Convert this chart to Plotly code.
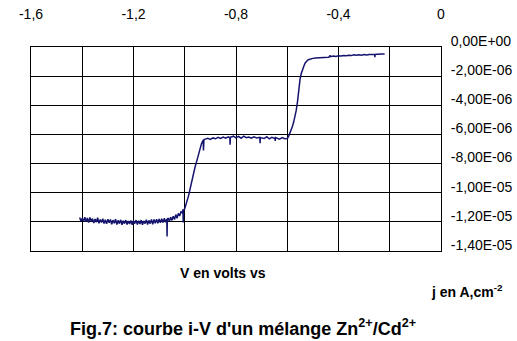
import plotly.graph_objects as go

# Potential (V) and current density (µA/cm², converted to A/cm² below)
V = [
    -1.410, -1.405, -1.400, -1.395, -1.390, -1.385, -1.380, -1.375, -1.370, -1.365,
    -1.360, -1.355, -1.350, -1.345, -1.340, -1.335, -1.330, -1.325, -1.320, -1.315,
    -1.310, -1.305, -1.300, -1.295, -1.290, -1.285, -1.280, -1.275, -1.270, -1.265,
    -1.260, -1.255, -1.250, -1.245, -1.240, -1.235, -1.230, -1.225, -1.220, -1.215,
    -1.210, -1.205, -1.200, -1.195, -1.190, -1.185, -1.180, -1.175, -1.170, -1.165,
    -1.160, -1.155, -1.150, -1.145, -1.140, -1.135, -1.130, -1.125, -1.120, -1.115,
    -1.110, -1.105, -1.100, -1.095, -1.090, -1.085, -1.080, -1.075, -1.070, -1.069,
    -1.068, -1.065, -1.060, -1.055, -1.050, -1.045, -1.040, -1.035, -1.030, -1.025,
    -1.020, -1.015, -1.010, -1.007, -1.006, -1.005, -1.000, -0.995, -0.990, -0.985,
    -0.980, -0.975, -0.970, -0.965, -0.960, -0.955, -0.950, -0.945, -0.940, -0.935,
    -0.930, -0.928, -0.927, -0.925, -0.920, -0.910, -0.900, -0.890, -0.880, -0.870,
    -0.860, -0.850, -0.840, -0.830, -0.824, -0.823, -0.822, -0.810, -0.800, -0.790,
    -0.780, -0.770, -0.760, -0.750, -0.740, -0.730, -0.720, -0.707, -0.706, -0.705,
    -0.690, -0.680, -0.670, -0.660, -0.648, -0.647, -0.646, -0.630, -0.620, -0.610,
    -0.600, -0.595, -0.590, -0.585, -0.580, -0.575, -0.570, -0.565, -0.560, -0.555,
    -0.550, -0.545, -0.540, -0.535, -0.530, -0.525, -0.520, -0.515, -0.510, -0.500,
    -0.490, -0.480, -0.470, -0.460, -0.450, -0.440, -0.434, -0.433, -0.432, -0.420,
    -0.410, -0.400, -0.390, -0.380, -0.370, -0.360, -0.350, -0.340, -0.330, -0.320,
    -0.310, -0.300, -0.290, -0.280, -0.270, -0.259, -0.258, -0.257, -0.250, -0.240,
    -0.230, -0.220,
]
J_uA = [
    -11.70, -11.95, -11.75, -11.98, -11.68, -12.00, -11.74, -12.05, -11.70, -11.96,
    -11.78, -12.08, -11.80, -12.02, -11.72, -12.10, -11.84, -12.04, -11.78, -12.12,
    -11.86, -12.14, -11.82, -12.06, -11.84, -12.16, -11.88, -12.10, -11.82, -12.18,
    -11.90, -12.12, -11.86, -12.20, -11.92, -12.12, -11.88, -12.18, -11.94, -12.14,
    -11.90, -12.20, -11.94, -12.12, -11.88, -12.18, -11.92, -12.14, -11.88, -12.20,
    -11.94, -12.12, -11.86, -12.18, -11.90, -12.12, -11.84, -12.16, -11.84, -12.10,
    -11.82, -12.10, -11.80, -12.06, -11.78, -12.04, -11.76, -12.02, -11.80, -13.00,
    -11.84, -11.74, -11.96, -11.68, -11.90, -11.62, -11.84, -11.50, -11.76, -11.42,
    -11.60, -11.32, -11.38, -11.15, -12.05, -11.20, -11.10, -10.85, -10.55, -10.20,
    -9.80, -9.35, -8.95, -8.60, -8.25, -7.95, -7.60, -7.25, -6.95, -6.65,
    -6.45, -6.38, -7.10, -6.35, -6.32, -6.26, -6.34, -6.24, -6.30, -6.20,
    -6.28, -6.18, -6.26, -6.16, -6.22, -6.70, -6.20, -6.12, -6.24, -6.14,
    -6.26, -6.12, -6.22, -6.18, -6.26, -6.16, -6.24, -6.20, -6.60, -6.22,
    -6.28, -6.16, -6.30, -6.20, -6.28, -6.45, -6.22, -6.32, -6.22, -6.30,
    -6.28, -6.15, -5.95, -5.70, -5.45, -5.15, -4.80, -4.35, -3.75, -2.90,
    -2.20, -1.80, -1.50, -1.30, -1.10, -0.98, -0.90, -0.86, -0.82, -0.78,
    -0.76, -0.75, -0.70, -0.74, -0.68, -0.70, -0.66, -0.56, -0.66, -0.62,
    -0.65, -0.60, -0.62, -0.58, -0.60, -0.56, -0.59, -0.54, -0.57, -0.53,
    -0.56, -0.52, -0.55, -0.51, -0.53, -0.51, -0.70, -0.51, -0.49, -0.51,
    -0.48, -0.48,
]
J = [v * 1e-6 for v in J_uA]

x_tickvals = [-1.6, -1.2, -0.8, -0.4, 0]
x_ticktext = ["-1,6", "-1,2", "-0,8", "-0,4", "0"]
y_tickvals = [0, -2e-6, -4e-6, -6e-6, -8e-6, -1e-5, -1.2e-5, -1.4e-5]
y_ticktext = ["0,00E+00", "-2,00E-06", "-4,00E-06", "-6,00E-06",
              "-8,00E-06", "-1,00E-05", "-1,20E-05", "-1,40E-05"]

FONT = "Liberation Sans, Arial, sans-serif"

fig = go.Figure()
fig.add_trace(go.Scatter(x=V, y=J, mode="lines",
                         line=dict(color="#14146e", width=1.5),
                         showlegend=False, hoverinfo="skip"))

fig.update_layout(
    width=517, height=341,
    margin=dict(l=31, r=76, t=47, b=90, autoexpand=False),
    paper_bgcolor="white", plot_bgcolor="white",
    font=dict(family=FONT, size=14, color="black"),
    xaxis=dict(
        range=[-1.6, 0], side="top", automargin=False,
        tickvals=x_tickvals, ticktext=x_ticktext,
        showgrid=True, gridcolor="black", gridwidth=1,
        minor=dict(dtick=0.2, tick0=0, showgrid=True, gridcolor="black", gridwidth=1),
        showline=True, linecolor="black", linewidth=1, mirror=True,
        ticks="", zeroline=False, ticklabelstandoff=21,
        tickfont=dict(family=FONT, size=14, color="black"),
    ),
    yaxis=dict(
        range=[-1.4e-5, 0], side="right", automargin=False,
        tickvals=y_tickvals, ticktext=y_ticktext,
        showgrid=True, gridcolor="black", gridwidth=1,
        showline=True, linecolor="black", linewidth=1, mirror=True,
        ticks="", zeroline=False, ticklabelstandoff=6, ticklabelshift=-6,
        tickfont=dict(family=FONT, size=14, color="black"),
    ),
    annotations=[
        dict(text="<b>V en volts vs</b>", x=0.468, y=-0.108, xref="paper", yref="paper",
             xanchor="center", yanchor="middle", showarrow=False,
             font=dict(family=FONT, size=14, color="black")),
        dict(text="<b>j en A,cm<sup>-2</sup></b>", x=1.063, y=-0.198, xref="paper", yref="paper",
             xanchor="center", yanchor="middle", showarrow=False,
             font=dict(family=FONT, size=14, color="black")),
        dict(text="<b>Fig.7: courbe i-V d'un mélange Zn<sup>2+</sup>/Cd<sup>2+</sup></b>",
             x=0.517, y=-0.375, xref="paper", yref="paper",
             xanchor="center", yanchor="middle", showarrow=False,
             font=dict(family=FONT, size=18, color="black")),
    ],
)

fig.write_html("out.html")
